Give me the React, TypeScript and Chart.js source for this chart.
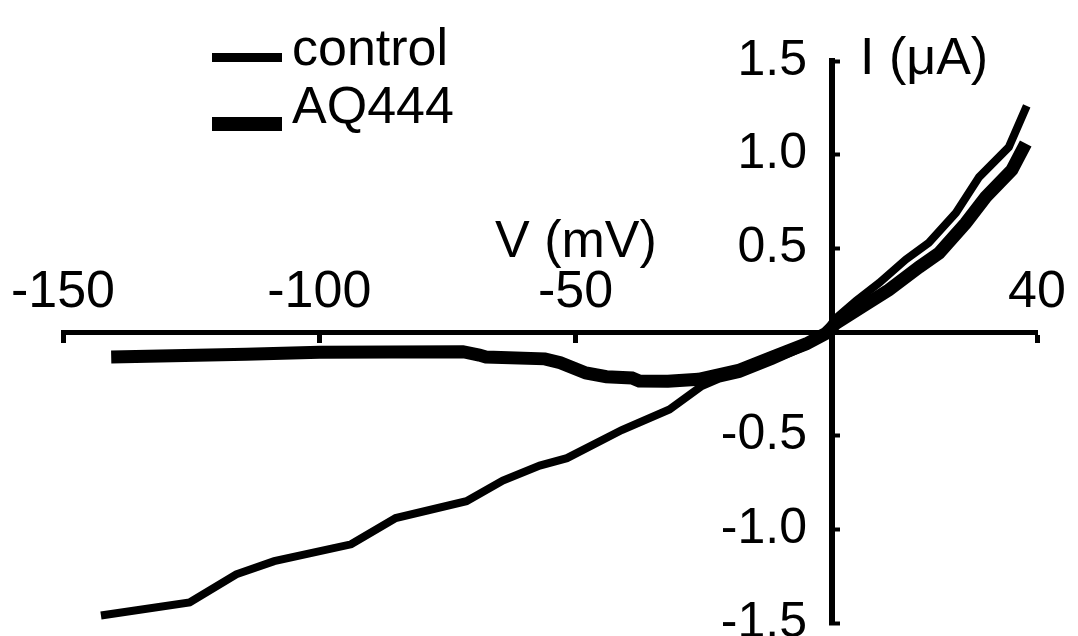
import React, { useEffect, useRef } from "react";
import { Chart, registerables } from "chart.js";

Chart.register(...registerables);

// ---- data ----
const controlV = [-142.6, -125.3, -116.2, -108.8, -93.8, -85.1, -71.3, -64.2, -57, -51.7, -41, -31.7, -25.4, -22, -18, -11.6, -5, -1.2, 0.5, 4.7, 9.2, 14.4, 18.9, 24.2, 28.7, 34.5, 38];
const controlI = [-1.46, -1.39, -1.24, -1.17, -1.08, -0.94, -0.85, -0.74, -0.66, -0.62, -0.47, -0.36, -0.235, -0.195, -0.17, -0.1, -0.02, 0.05, 0.12, 0.22, 0.315, 0.44, 0.53, 0.69, 0.88, 1.04, 1.26];

const aq444V = [-140.6, -114.3, -100, -72, -68.8, -67.5, -56, -53, -48, -44, -39, -37.6, -32, -26, -18, -11.6, -5, -1.2, 0.8, 5.8, 11.1, 17, 20.9, 26.1, 30, 35.1, 37.8];
const aq444I = [-0.08, -0.065, -0.055, -0.052, -0.07, -0.08, -0.09, -0.11, -0.165, -0.185, -0.192, -0.208, -0.21, -0.199, -0.15, -0.08, -0.01, 0.045, 0.1, 0.187, 0.278, 0.4, 0.475, 0.635, 0.774, 0.918, 1.06];

const xTickValues = [-150, -100, -50, 40];
const yTickValues = [-1.5, -1.0, -0.5, 0.5, 1.0, 1.5];
const xMin = -150;
const xMax = 40;
const yMin = -1.5;
const yMax = 1.5;
const seriesNames = ["control", "AQ444"];
const xTitle = "V (mV)";
const yTitle = "I (\u03bcA)";

const FONT = "'Liberation Sans', Arial, Helvetica, sans-serif";

export default function App() {
  const ref = useRef<HTMLCanvasElement>(null);

  useEffect(() => {
    const canvas = ref.current;
    if (!canvas) return;
    Chart.defaults.font.family = FONT;
    const chart = new Chart(canvas, {
      type: "line",
      data: {
        datasets: [
          {
            label: seriesNames[0],
            data: controlV.map((v, i) => ({ x: v, y: controlI[i] })),
            borderColor: "#000",
            backgroundColor: "#000",
            borderWidth: 8,
            pointRadius: 0,
            tension: 0,
            fill: false,
            clip: false as any,
          },
          {
            label: seriesNames[1],
            data: aq444V.map((v, i) => ({ x: v, y: aq444I[i] })),
            borderColor: "#000",
            backgroundColor: "#000",
            borderWidth: 13,
            pointRadius: 0,
            tension: 0,
            fill: false,
            clip: false as any,
          },
        ],
      },
      options: {
        responsive: false,
        animation: false,
        events: [],
        layout: { padding: { left: 63, right: 41, top: 61, bottom: 57 } },
        plugins: { legend: { display: false }, tooltip: { enabled: false }, title: { display: false } },
        scales: {
          x: {
            type: "linear",
            min: xMin,
            max: xMax,
            position: { y: 0.05 } as any,
            afterBuildTicks: (s: any) => {
              s.ticks = xTickValues.map((v) => ({ value: v }));
            },
            ticks: {
              color: "#000",
              font: { family: FONT, size: 52 },
              padding: -79,
              autoSkip: false,
              maxRotation: 0,
              minRotation: 0,
              callback: (v: any) => String(v),
            },
            grid: {
              display: true,
              drawOnChartArea: false,
              drawTicks: true,
              tickLength: 8,
              tickWidth: 5,
              tickColor: "#000",
              color: "#000",
            },
            border: { display: true, color: "#000", width: 5 },
          },
          y: {
            type: "linear",
            min: yMin,
            max: yMax,
            position: { x: 0 } as any,
            afterBuildTicks: (s: any) => {
              s.ticks = yTickValues.map((v) => ({ value: v }));
            },
            ticks: {
              color: "#000",
              font: { family: FONT, size: 50 },
              autoSkip: false,
              callback: (v: any) => Number(v).toFixed(1) + "\u2002",
            },
            grid: {
              display: true,
              drawOnChartArea: false,
              drawTicks: true,
              tickLength: -11,
              tickWidth: 4,
              tickColor: "#000",
              color: "#000",
            },
            border: { display: true, color: "#000", width: 6 },
          },
        },
      } as any,
    });
    return () => chart.destroy();
  }, []);

  const textStyle: React.CSSProperties = {
    position: "absolute",
    fontFamily: FONT,
    fontSize: 52,
    lineHeight: "52px",
    color: "#000",
    whiteSpace: "nowrap",
    margin: 0,
  };

  return (
    <div
      style={{
        position: "fixed",
        left: 0,
        top: 0,
        width: 1078,
        height: 636,
        overflow: "hidden",
        background: "#fff",
      }}
    >
      <canvas ref={ref} width={1078} height={680} style={{ position: "absolute", left: 0, top: 0 }} />
      <div style={{ position: "absolute", left: 212, top: 53, width: 70, height: 9, background: "#000" }} />
      <div style={{ ...textStyle, left: 292, top: 21 }}>{seriesNames[0]}</div>
      <div style={{ position: "absolute", left: 212, top: 117, width: 70, height: 14, background: "#000" }} />
      <div style={{ ...textStyle, left: 292, top: 79 }}>{seriesNames[1]}</div>
      <div style={{ ...textStyle, left: 495, top: 213 }}>{xTitle}</div>
      <div style={{ ...textStyle, left: 860, top: 30 }}>{yTitle}</div>
    </div>
  );
}
